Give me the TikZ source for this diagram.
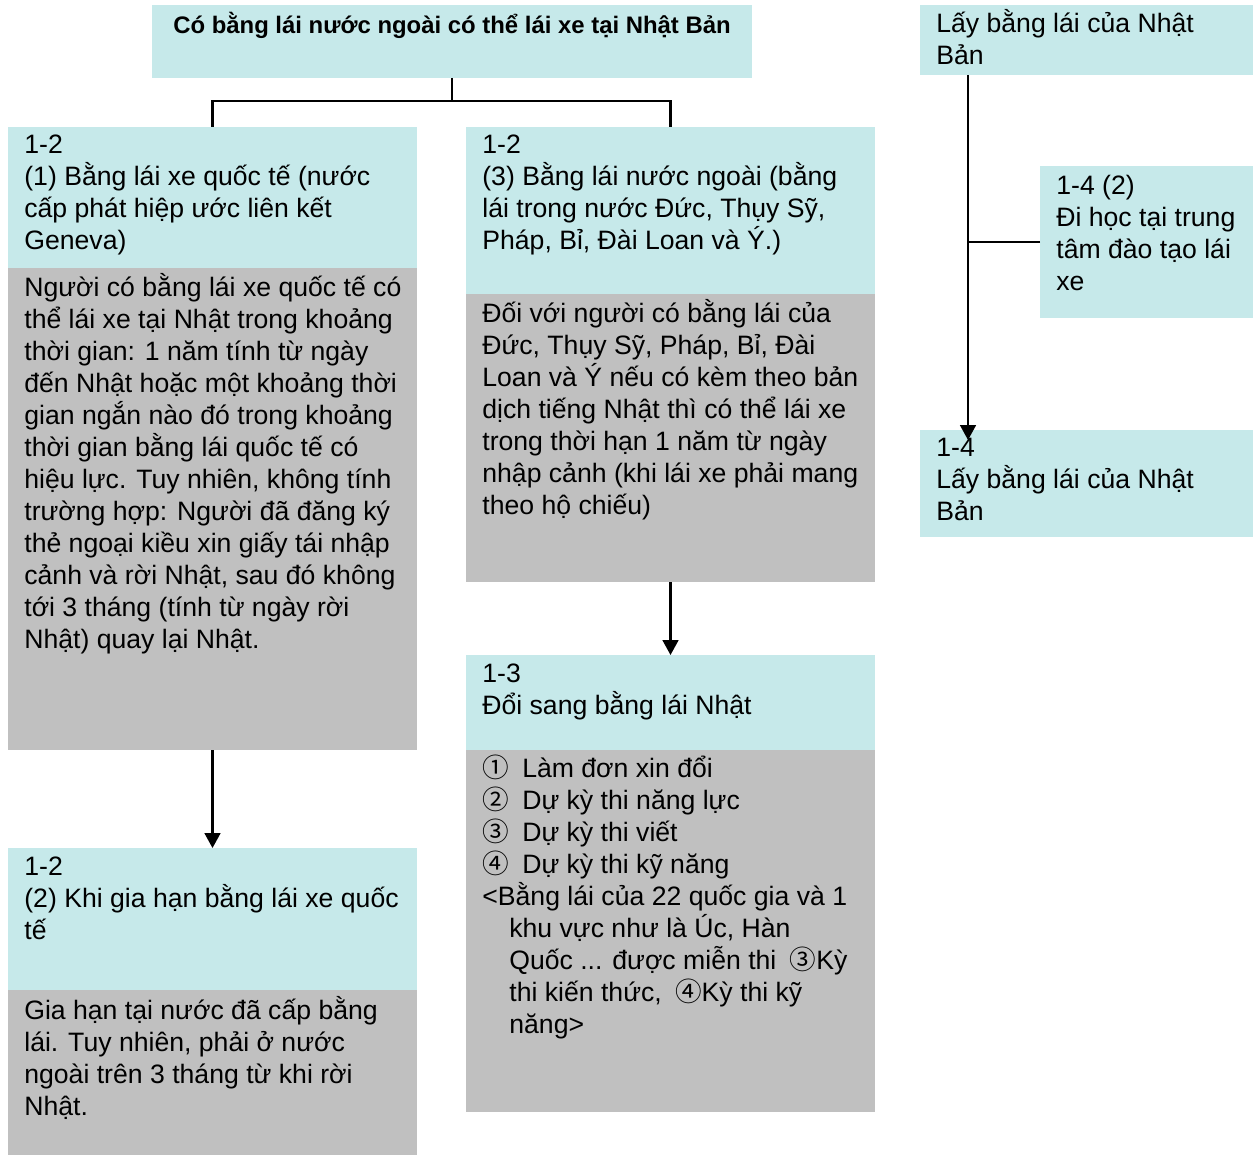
\documentclass[tikz,border=0pt]{standalone}
\usepackage{fontspec}
\setmainfont{Liberation Sans}
\newfontfamily\circfont{Noto Sans CJK JP}
\usetikzlibrary{positioning,arrows.meta}

\definecolor{headcyan}{HTML}{C6E9EA}
\definecolor{bodygrey}{HTML}{C0C0C0}
\newcommand{\pxl}{0.02cm}
\newcommand{\cn}[1]{{\circfont #1}}
\newcommand{\boxfont}{\fontsize{15.15}{18.2}\selectfont\lineskiplimit=-100pt\relax}

\tikzset{
  panel/.style={anchor=north west, inner sep=0pt, outer sep=0pt},
  head/.style={panel, fill=headcyan},
  body/.style={panel, fill=bodygrey},
  txt/.style={anchor=north west, inner sep=0pt, align=left, font=\boxfont},
  link/.style={line width=1.2pt},
  flow/.style={line width=1.2pt, -{Triangle[length=8.5pt,width=9pt]}},
}

\begin{document}
\begin{tikzpicture}[x=0.02cm, y=-0.02cm]
\useasboundingbox (0,0) rectangle (1253,1155);

% top title
\node[head, minimum width=600*\pxl, minimum height=73*\pxl] (title) at (152,5) {};
\node[font=\fontsize{13.6}{16}\selectfont\bfseries] (titlet) at (452,25)
  {Có bằng lái nước ngoài có thể lái xe tại Nhật Bản};

% left column
\node[head, minimum width=409*\pxl, minimum height=141*\pxl] (a1) at (8,127) {};
\node[txt] (a1t) at ([shift={(16,4)}]a1.north west)
  {\strut 1-2\\(1) Bằng lái xe quốc tế (nước\\cấp phát hiệp ước liên kết\\Geneva)};
\node[body, minimum width=409*\pxl, minimum height=482*\pxl] (a1b) at (8,268) {};
\node[txt] (a1bt) at ([shift={(16,5)}]a1b.north west)
  {\strut Người có bằng lái xe quốc tế có\\thể lái xe tại Nhật trong khoảng\\thời gian: 1 năm tính từ ngày\\đến Nhật hoặc một khoảng thời\\gian ngắn nào đó trong khoảng\\thời gian bằng lái quốc tế có\\hiệu lực. Tuy nhiên, không tính\\trường hợp: Người đã đăng ký\\thẻ ngoại kiều xin giấy tái nhập\\cảnh và rời Nhật, sau đó không\\tới 3 tháng (tính từ ngày rời\\Nhật) quay lại Nhật.};

\node[head, minimum width=409*\pxl, minimum height=142*\pxl] (a2) at (8,848) {};
\node[txt] (a2t) at ([shift={(16,5)}]a2.north west)
  {\strut 1-2\\(2) Khi gia hạn bằng lái xe quốc\\tế};
\node[body, minimum width=409*\pxl, minimum height=165*\pxl] (a2b) at (8,990) {};
\node[txt] (a2bt) at ([shift={(16,6)}]a2b.north west)
  {\strut Gia hạn tại nước đã cấp bằng\\lái. Tuy nhiên, phải ở nước\\ngoài trên 3 tháng từ khi rời\\Nhật.};

% middle column
\node[head, minimum width=409*\pxl, minimum height=167*\pxl] (c1) at (466,127) {};
\node[txt] (c1t) at ([shift={(16,4)}]c1.north west)
  {\strut 1-2\\(3) Bằng lái nước ngoài (bằng\\lái trong nước Đức, Thụy Sỹ,\\Pháp, Bỉ, Đài Loan và Ý.)};
\node[body, minimum width=409*\pxl, minimum height=288*\pxl] (c1b) at (466,294) {};
\node[txt] (c1bt) at ([shift={(16,5)}]c1b.north west)
  {\strut Đối với người có bằng lái của\\Đức, Thụy Sỹ, Pháp, Bỉ, Đài\\Loan và Ý nếu có kèm theo bản\\dịch tiếng Nhật thì có thể lái xe\\trong thời hạn 1 năm từ ngày\\nhập cảnh (khi lái xe phải mang\\theo hộ chiếu)};

\node[head, minimum width=409*\pxl, minimum height=95*\pxl] (c2) at (466,655) {};
\node[txt] (c2t) at ([shift={(16,5)}]c2.north west)
  {\strut 1-3\\Đổi sang bằng lái Nhật};
\node[body, minimum width=409*\pxl, minimum height=362*\pxl] (c2b) at (466,750) {};
\node[txt] (c2bt) at ([shift={(16,5)}]c2b.north west)
  {\strut\cn{①}\enspace Làm đơn xin đổi\\\cn{②}\enspace Dự kỳ thi năng lực\\\cn{③}\enspace Dự kỳ thi viết\\\cn{④}\enspace Dự kỳ thi kỹ năng\\<Bằng lái của 22 quốc gia và 1\\\hspace*{0.54cm}khu vực như là Úc, Hàn\\\hspace*{0.54cm}Quốc ... được miễn thi\enspace\cn{③}Kỳ\\\hspace*{0.54cm}thi kiến thức,\enspace\cn{④}Kỳ thi kỹ\\\hspace*{0.54cm}năng>};

% right column
\node[head, minimum width=333*\pxl, minimum height=70*\pxl] (r1) at (920,5) {};
\node[txt] (r1t) at ([shift={(16,4)}]r1.north west)
  {\strut Lấy bằng lái của Nhật\\Bản};
\node[head, minimum width=213*\pxl, minimum height=152*\pxl] (r2) at (1040,166) {};
\node[txt] (r2t) at ([shift={(16,6)}]r2.north west)
  {\strut 1-4 (2)\\Đi học tại trung\\tâm đào tạo lái\\xe};
\node[head, minimum width=333*\pxl, minimum height=107*\pxl] (r3) at (920,430) {};
\node[txt] (r3t) at ([shift={(16,4)}]r3.north west)
  {\strut 1-4\\Lấy bằng lái của Nhật\\Bản};

% connectors
\draw[link] (title.south) -- (452,101) coordinate (fork);
\draw[link] (fork) -| (a1.north);
\draw[link] (fork) -| (c1.north);
\draw[flow] (a1b.south) -- (a2.north);
\draw[flow] (c1b.south) -- (c2.north);
\draw[flow, shorten >=-10*\pxl] ([xshift=48*\pxl]r1.south west) -- ([xshift=48*\pxl]r3.north west);
\draw[link] (r2.west) -- ++(-72,0);
\end{tikzpicture}
\end{document}
